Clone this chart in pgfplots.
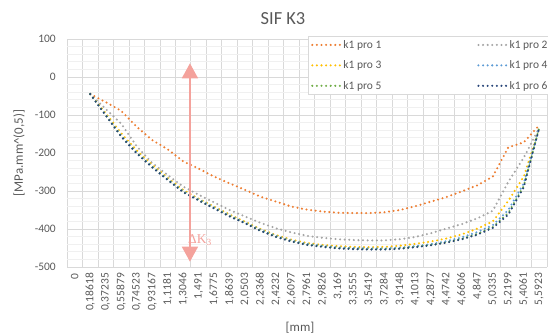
\documentclass[border=0pt]{standalone}
\usepackage{pgfplots}
\pgfplotsset{compat=1.18}
\usepackage{pgfplotstable}
\usepackage{fontspec}
\setmainfont{Carlito}
\newfontfamily\timesfont{Liberation Serif}
\usetikzlibrary{arrows.meta}
\definecolor{txt}{HTML}{595959}
\definecolor{gmaj}{HTML}{D9D9D9}
\definecolor{gmin}{HTML}{F0F0F0}
\definecolor{c1}{HTML}{ED7D31}
\definecolor{c2}{HTML}{A5A5A5}
\definecolor{c3}{HTML}{FFC000}
\definecolor{c4}{HTML}{5B9BD5}
\definecolor{c5}{HTML}{70AD47}
\definecolor{c6}{HTML}{264478}
\definecolor{arr}{HTML}{F4A29C}

\pgfplotstableread{
x p1 p2 p3 p4 p5 p6
1 -45 -45 -45 -45 -45 -45
2 -66 -84 -95 -99 -100 -101
3 -89 -123 -148 -154 -156 -157
4 -131 -182 -193 -198 -200 -201
5 -166 -226 -231 -235 -237 -238
6 -190 -258 -265 -268 -270 -271
7 -222 -288 -297 -300 -302 -303
8 -241 -310 -320 -322 -324 -325
9 -262 -330 -341 -343 -345 -346
10 -280 -350 -362 -364 -366 -367
11 -297 -367 -381 -383 -384 -385
12 -315 -384 -400 -402 -404 -405
13 -328 -398 -416 -418 -420 -421
14 -341 -409 -428 -430 -432 -433
15 -349 -418 -437 -439 -441 -442
16 -354 -423 -442 -444 -446 -447
17 -357 -427 -445 -448 -450 -451
18 -358 -429 -447 -450 -452 -453
19 -358 -430 -448 -451 -453 -454
20 -356 -430 -447 -451 -453 -454
21 -350 -427 -444 -449 -451 -452
22 -340 -421 -439 -445 -447 -448
23 -328 -411 -433 -440 -442 -443
24 -316 -399 -425 -432 -435 -436
25 -301 -387 -414 -422 -426 -427
26 -285 -372 -399 -408 -413 -415
27 -262 -352 -380 -390 -395 -397
28 -185 -276 -326 -350 -358 -362
29 -172 -212 -262 -280 -287 -290
30 -127 -134 -135 -133 -133 -133
}\data

\begin{document}
\begin{tikzpicture}
\path[use as bounding box] (0bp,0bp) rectangle (548bp,-335bp);
\begin{axis}[
  at={(67bp,-267bp)}, anchor=south west,
  scale only axis, width=480bp, height=228bp,
  xmin=-0.5, xmax=30.5, ymin=-500, ymax=100,
  xtick={0,...,30},
  xticklabels={{0},{0,18618},{0,37235},{0,55879},{0,74523},{0,93167},{1,1181},{1,3046},{1,491},{1,6775},{1,8639},{2,0503},{2,2368},{2,4232},{2,6097},{2,7961},{2,9826},{3,169},{3,3555},{3,5419},{3,7284},{3,9148},{4,1013},{4,2877},{4,4742},{4,6606},{4,847},{5,0335},{5,2199},{5,4061},{5,5923}},
  minor xtick={-0.5,0.5,...,30.5},
  ytick={-500,-400,...,100},
  minor y tick num=4,
  xminorgrids, ymajorgrids, yminorgrids,
  minor x grid style={gmaj, line width=0.8bp},
  major y grid style={gmaj, line width=0.8bp},
  minor y grid style={gmin, line width=0.8bp},
  major tick length=0pt, minor tick length=0pt,
  axis line style={draw=none},
  /pgf/number format/assume math mode=true,
  yticklabel style={font=\fontsize{11.5}{13}\selectfont, text=txt, anchor=east, inner sep=0pt, xshift=-11bp},
  xticklabel style={font=\fontsize{11.5}{13}\selectfont, text=txt, yshift=-6bp, rotate=90, anchor=east, inner sep=0pt},
  legend columns=2,
  legend cell align=left,
  legend image code/.code={\draw[#1] (0bp,0bp) -- (28bp,0bp);},
  legend style={at={(0.502,1.013)}, anchor=north west, draw=gmaj, fill=white,
    font=\fontsize{11.5}{13}\selectfont, text=txt, row sep=7bp,
    /tikz/every even column/.append style={column sep=94bp}},
  every axis plot/.append style={line width=2.3bp, dash pattern=on 0bp off 4.6bp, line cap=round},
]
\addplot[c1] table[x=x, y=p1] {\data};
\addlegendentry{k1 pro 1}
\addplot[c2] table[x=x, y=p2] {\data};
\addlegendentry{k1 pro 2}
\addplot[c3] table[x=x, y=p3] {\data};
\addlegendentry{k1 pro 3}
\addplot[c4] table[x=x, y=p4] {\data};
\addlegendentry{k1 pro 4}
\addplot[c5] table[x=x, y=p5] {\data};
\addlegendentry{k1 pro 5}
\addplot[c6] table[x=x, y=p6] {\data};
\addlegendentry{k1 pro 6}
\draw[arr, line width=1.5bp, {Triangle[width=16bp,length=15bp]}-{Triangle[width=16bp,length=15bp]}] (axis cs:7.44,-486) -- (axis cs:7.44,36);
\node[anchor=base west, text=arr, font=\timesfont\fontsize{13.5}{15}\selectfont, inner sep=0pt, xshift=-2bp] at (axis cs:7.44,-437) {ΔK\textsubscript{3}};
\end{axis}
\node[text=txt, font=\fontsize{18.5}{20}\selectfont] at (283bp,-19bp) {SIF K3};
\node[text=txt, font=\fontsize{13}{15}\selectfont, rotate=90] at (19bp,-153bp) {[MPa.mm\textasciicircum(0,5)]};
\node[text=txt, font=\fontsize{13}{15}\selectfont] at (300bp,-328bp) {[mm]};
\end{tikzpicture}
\end{document}
